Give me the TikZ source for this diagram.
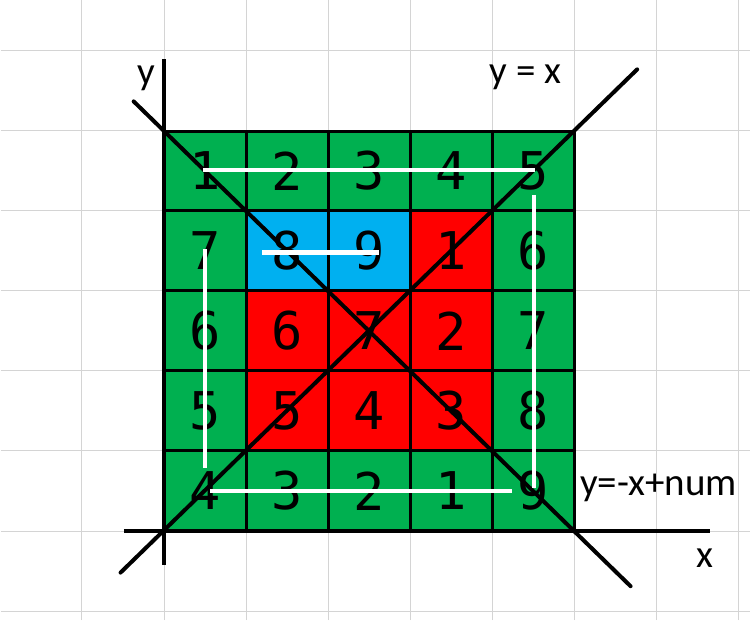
\documentclass[tikz,border=0pt]{standalone}
\usepackage{fontspec}
\setmainfont{Carlito}
\newfontfamily\cellfont{DejaVu Sans Mono}
\definecolor{cellgreen}{HTML}{00B050}
\definecolor{cellblue}{HTML}{00B0F0}
\definecolor{cellred}{HTML}{FF0000}
\definecolor{sheetgray}{HTML}{D4D4D4}

\begin{document}
\begin{tikzpicture}[x=82pt, y=80pt,
  num/.style={font=\cellfont\fontsize{52}{52}\selectfont, inner sep=0pt},
  lbl/.style={font=\fontsize{39}{42}\selectfont, inner sep=0pt},
  walk/.style={white, line width=4.5pt}]
  \useasboundingbox (-2,-1.1125) rectangle (7.1463,6.6375);
  % sheet grid in the background
  \draw[sheetgray, line width=1pt, step=1] (-1.99,-1.1125) grid (7.1463,6.6375);
  % coloured cells
  \fill[cellgreen] (0,0) rectangle (5,5);
  \fill[cellred] (1,1) rectangle (4,3);
  \fill[cellred] (3,3) rectangle (4,4);
  \fill[cellblue] (1,3) rectangle (3,4);
  \draw[line width=3pt, step=1] (0,0) grid (5,5);
  % numbers, row by row from the top
  \node[num] (n11) at (0.5,4.5) {1};
  \node[num] (n12) at (1.5,4.5) {2};
  \node[num] (n13) at (2.5,4.5) {3};
  \node[num] (n14) at (3.5,4.5) {4};
  \node[num] (n15) at (4.5,4.5) {5};
  \node[num] (n21) at (0.5,3.5) {7};
  \node[num] (n22) at (1.5,3.5) {8};
  \node[num] (n23) at (2.5,3.5) {9};
  \node[num] (n24) at (3.5,3.5) {1};
  \node[num] (n25) at (4.5,3.5) {6};
  \node[num] (n31) at (0.5,2.5) {6};
  \node[num] (n32) at (1.5,2.5) {6};
  \node[num] (n33) at (2.5,2.5) {7};
  \node[num] (n34) at (3.5,2.5) {2};
  \node[num] (n35) at (4.5,2.5) {7};
  \node[num] (n41) at (0.5,1.5) {5};
  \node[num] (n42) at (1.5,1.5) {5};
  \node[num] (n43) at (2.5,1.5) {4};
  \node[num] (n44) at (3.5,1.5) {3};
  \node[num] (n45) at (4.5,1.5) {8};
  \node[num] (n51) at (0.5,0.5) {4};
  \node[num] (n52) at (1.5,0.5) {3};
  \node[num] (n53) at (2.5,0.5) {2};
  \node[num] (n54) at (3.5,0.5) {1};
  \node[num] (n55) at (4.5,0.5) {9};
  % axes and the two diagonals
  \coordinate (O) at (0,0);
  \coordinate (Ytop) at (0,5.9);
  \coordinate (Ybot) at (0,-0.42);
  \coordinate (Xl) at (-0.49,0);
  \coordinate (Xr) at (6.66,0);
  \coordinate (D1) at (-0.53,-0.52);
  \coordinate (D2) at (5.77,5.77);
  \coordinate (A1) at (-0.37,5.37);
  \coordinate (A2) at (5.69,-0.69);
  \draw[line width=4.5pt] (Ybot) -- (Ytop);
  \draw[line width=4.5pt] (Xl) -- (Xr);
  \draw[line width=4pt, line cap=round] (D1) -- (D2);
  \draw[line width=4pt, line cap=round] (A1) -- (A2);
  % white path through the cells
  \coordinate (w1) at (0.48,4.51);
  \coordinate (w2) at (4.52,4.51);
  \coordinate (w3) at (4.51,4.2);
  \coordinate (w4) at (4.51,0.54);
  \coordinate (w5) at (4.24,0.5);
  \coordinate (w6) at (0.56,0.5);
  \coordinate (w7) at (0.5,0.79);
  \coordinate (w8) at (0.5,3.52);
  \coordinate (w9) at (1.2,3.48);
  \coordinate (w10) at (2.62,3.48);
  \draw[walk] (w1) -- (w2);
  \draw[walk] (w3) -- (w4);
  \draw[walk] (w5) -- (w6);
  \draw[walk] (w7) -- (w8);
  \draw[walk] (w9) -- (w10);
  % labels
  \node[lbl] (ylab) at (-0.21,5.66) {y};
  \node[lbl] (diaglab) at (4.41,5.675) {y = x};
  \node[lbl, anchor=west] (antilab) at (5.073,0.544) {y=-x+num};
  \node[lbl] (xlab) at (6.6,-0.34) {x};
\end{tikzpicture}
\end{document}
